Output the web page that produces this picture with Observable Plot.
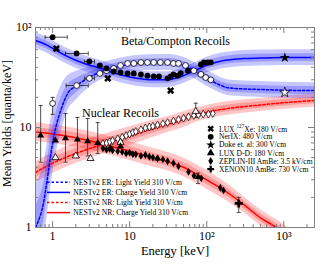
<!DOCTYPE html>
<html><head><meta charset="utf-8">
<script src="https://cdn.jsdelivr.net/npm/d3@7"></script>
<script src="https://cdn.jsdelivr.net/npm/@observablehq/plot@0.6"></script>
<style>body{margin:0;background:#fff}</style>
</head><body><div id="chart"></div>
<script>
// ---------- model curves (NESTv2, 310 V/cm) ----------
const erChargeE = [0.6,0.8,1,1.5,2,3,4,6,10,15,20,30,50,70,100,150,200,300,500,1000,2500];
const erChargeY = [74,68,62,52,47,42,39.5,35.5,32,30.5,30,30,33,37,42,46,47.5,49,49.5,50,50];
const erChargeBand = [1.2,1.2,1.2,1.2,1.2,1.2,1.2,1.2,1.2,1.2,1.2,1.2,1.2,1.2,1.2,1.2,1.2,1.2,1.2,1.2,1.2];

const erLightE = [0.6,0.65,0.7,0.76,0.85,0.95,1.03,1.1,1.3,1.57,2,2.85,4,5.65,8,11.3,20,31,45,62,80,113,150,186,300,500,1000,2500];
const erLightY = [1.0,1.15,1.35,1.74,3.0,5.5,7.9,10,15.5,21.9,26,31,35.5,38.9,41.5,43.6,44.5,44.7,43,39,34.5,29.5,26.5,25,24.3,24,23.6,23.4];
const erLightBand = [2.6,2.6,2.5,2.4,2.3,2.2,2.0,1.9,1.7,1.5,1.4,1.28,1.22,1.2,1.2,1.2,1.2,1.2,1.2,1.2,1.2,1.2,1.2,1.2,1.2,1.2,1.2,1.2];

const nrChargeE = [0.6,1,2,4,10,20,30,50,70,100,200,300,500,800,1200];
const nrChargeY = [9.0,8.6,7.9,7.0,5.8,5.0,4.6,4.0,3.5,3.0,2.15,1.7,1.25,1.0,0.8];
const nrChargeBand = [1.24,1.24,1.24,1.24,1.24,1.24,1.24,1.24,1.24,1.24,1.22,1.2,1.2,1.2,1.2];

const nrLightE = [0.6,1,2,4,10,20,30,50,70,100,200,500,1000,2500];
const nrLightY = [3.55,4.4,5.5,6.6,8.2,9.7,10.6,12,13.2,14.2,15.6,16.8,17.7,18.6];
const nrLightBand = [1.27,1.27,1.26,1.25,1.24,1.22,1.2,1.2,1.18,1.17,1.17,1.16,1.16,1.16];

// ---------- measurements ----------
const nerixChargeE = [1.0,2.05,3.0,4.1,5.0,6.2,7.6,9.4,11.3,14,17,20.5,24,31,34,37,42,46,57,84,92,103,113];
const nerixChargeY = [80,55,45.7,41.7,39,36.3,35.5,34.7,34.7,33.9,33,32.4,32.4,31,32.4,34,33,35,37,42.7,44.7,44.7,44.7];
const nerixLightE = [1.0,2.05,3.0,4.1,5.0,6.2,7.6,9.4,11.3,14,17,20.5,25,31,37,43,53,68,84,97,113];
const nerixLightY = [17.4,26.3,31,34.7,37,39,41.7,43.7,43.7,44.7,44.7,44.7,44.7,44.7,43.7,43.7,41.7,37,34,31.6,30];

const luxXeE = [1.12,5.2,34];
const luxXeY = [61.5,31,23.4];

const dokeChargeE = [1030]; const dokeChargeY = [50];
const dokeLightE = [1030];  const dokeLightY = [22.4];

const luxDDChargeE = [0.70,1.09,1.47,2.1,2.85,3.85,5.65,7.6,23,77];
const luxDDChargeY = [8.3,7.4,7.8,7.6,7.3,7.0,6.2,6.5,4.9,3.2];
const luxDDLightE = [1.09,2.0,3.1,7.6,72];
const luxDDLightY = [5.0,5.2,4.9,7.1,14.5];

const zepChargeE = [4.5,5,5.5,6,7,8,9,10,11,12,14,16,18,20,23,27,31,37,43,58,68,85,150,165];
const zepChargeY = [6.2,6.0,6.1,5.9,5.8,5.7,5.5,5.6,5.4,5.4,5.2,5.3,5.1,5.0,4.9,4.8,4.6,4.4,4.1,3.6,3.3,3.1,2.5,2.35];
const zepLightE = [4.5,5,5.5,6,7,8,9,10,11,12,14,16,18,20,23,27,31,37,43,50,58,68,78,90,105,120];
const zepLightY = [6.9,7.0,7.2,7.4,7.7,8.0,8.3,8.6,8.9,9.1,9.5,9.9,10.1,10.3,10.6,10.9,11.2,11.6,12.0,12.4,12.8,13.2,13.4,13.6,13.6,13.8];

const xe10E = [260]; const xe10Y = [1.74];

// error bars
const errVx  = [0.70,1.47,2.1,2.85,3.85,77,1.0,72,260];
const errVlo = [4.5,4.5,5.0,5.2,5.5,2.75,13.5,12.6,1.41];
const errVhi = [16.6,13.8,12.6,12.3,11.2,3.5,20,17.5,2.0];
const errHy  = [80,55,26.3,45.7,31];
const errHlo = [0.8,1.47,1.5,2.6,2.6];
const errHhi = [1.55,2.9,2.9,3.5,3.5];

// axes
const xMajor = [1,10,100,1000];
const xMajorLabels = ["1","10","10²","10³"];
const xMinor = [0.6,0.7,0.8,0.9,2,3,4,5,6,7,8,9,20,30,40,50,60,70,80,90,200,300,400,500,600,700,800,900,2000];
const yMajor = [1,10,100];
const yMajorLabels = ["1","10","10²"];
const yMinor = [2,3,4,5,6,7,8,9,20,30,40,50,60,70,80,90];

// legends
const legendLabels = ["LUX","NerIX: 480 V/cm","Doke et. al: 300 V/cm","LUX D-D: 180 V/cm","ZEPLIN-III AmBe: 3.5 kV/cm","XENON10 AmBe: 730 V/cm"];
const modelLabels = ["NESTv2 ER: Light Yield 310 V/cm","NESTv2 ER: Charge Yield 310 V/cm","NESTv2 NR: Light Yield 310 V/cm","NESTv2 NR: Charge Yield 310 V/cm"];

// ---------- helpers ----------
const rows = (E, Y) => E.map((e, i) => ({x: e, y: Y[i]}));
const bandRows = (E, Y, F, p) => E.map((e, i) => ({x: e, lo: Y[i] / Math.pow(F[i], p), hi: Y[i] * Math.pow(F[i], p)}));
const symX = {draw(ctx, size){ const r = Math.sqrt(size/5)/2; const pts=[[-3,-1],[-1,-1],[-1,-3],[1,-3],[1,-1],[3,-1],[3,1],[1,1],[1,3],[-1,3],[-1,1],[-3,1]]; const c=Math.SQRT1_2; pts.forEach(([a,b],i)=>{const X=(a-b)*c*r, Y=(a+b)*c*r; i?ctx.lineTo(X,Y):ctx.moveTo(X,Y);}); ctx.closePath();}};
const capH = {draw(ctx, size){ const w = Math.sqrt(size)/2; ctx.moveTo(-w,0); ctx.lineTo(w,0);}};
const capV = {draw(ctx, size){ const w = Math.sqrt(size)/2; ctx.moveTo(0,-w); ctx.lineTo(0,w);}};

const X0 = 0.6, X1 = 2500, Y0 = 1, Y1 = 100;
const pxPerDecX = (334-35-20) / Math.log10(X1/X0), pxPerDecY = 200/2;
const fx = px => Math.pow(10, px/pxPerDecX), fy = px => Math.pow(10, px/pxPerDecY);
const tickStroke = "#808080";

const blue = "#0000ff", red = "#ff0000";
const band = (E,Y,F,col) => [
  Plot.areaY(bandRows(E,Y,F,1), {x:"x", y1:"lo", y2:"hi", fill:col, fillOpacity:0.22, curve:"monotone-x", clip:true}),
  Plot.areaY(bandRows(E,Y,F,0.5), {x:"x", y1:"lo", y2:"hi", fill:col, fillOpacity:0.22, curve:"monotone-x", clip:true})
];

const chart = Plot.plot({
  width: 334, height: 267,
  marginLeft: 35, marginRight: 20, marginTop: 27, marginBottom: 40,
  x: {type:"log", domain:[X0, X1], label:null},
  y: {type:"log", domain:[Y0, Y1], label:null},
  style: {fontFamily:"'Liberation Serif', serif", fontSize:"12px", color:"black", background:"white"},
  marks: [
    ...band(nrChargeE, nrChargeY, nrChargeBand, red),
    ...band(nrLightE, nrLightY, nrLightBand, red),
    ...band(erChargeE, erChargeY, erChargeBand, blue),
    ...band(erLightE, erLightY, erLightBand, blue),
    Plot.line(rows(nrChargeE,nrChargeY), {x:"x", y:"y", stroke:red, strokeWidth:1.5, curve:"monotone-x", clip:true}),
    Plot.line(rows(nrLightE,nrLightY), {x:"x", y:"y", stroke:red, strokeWidth:1.5, strokeDasharray:"2.5,2", curve:"monotone-x", clip:true}),
    Plot.line(rows(erChargeE,erChargeY), {x:"x", y:"y", stroke:blue, strokeWidth:1.5, curve:"monotone-x", clip:true}),
    Plot.line(rows(erLightE,erLightY), {x:"x", y:"y", stroke:blue, strokeWidth:1.5, strokeDasharray:"2.5,2", curve:"monotone-x", clip:true}),
    // error bars
    Plot.ruleX(errVx.map((x,i)=>({x, lo:errVlo[i], hi:errVhi[i]})), {x:"x", y1:"lo", y2:"hi", stroke:"#222", strokeWidth:0.8}),
    Plot.dot(errVx.flatMap((x,i)=>[{x,y:errVlo[i]},{x,y:errVhi[i]}]), {x:"x", y:"y", symbol:capH, r:2.3, stroke:"#222", fill:"none", strokeWidth:0.8}),
    Plot.ruleY(errHy.map((y,i)=>({y, lo:errHlo[i], hi:errHhi[i]})), {y:"y", x1:"lo", x2:"hi", stroke:"#222", strokeWidth:0.8}),
    Plot.dot(errHy.flatMap((y,i)=>[{x:errHlo[i],y},{x:errHhi[i],y}]), {x:"x", y:"y", symbol:capV, r:2.3, stroke:"#222", fill:"none", strokeWidth:0.8}),
    // data markers
    Plot.dot(rows(zepLightE,zepLightY), {x:"x", y:"y", symbol:"diamond", r:2.4, fill:"white", stroke:"black", strokeWidth:0.7}),
    Plot.dot(rows(zepChargeE,zepChargeY), {x:"x", y:"y", symbol:"diamond", r:2.4, fill:"black", stroke:"none"}),
    Plot.dot(rows(nerixLightE,nerixLightY), {x:"x", y:"y", symbol:"circle", r:2.9, fill:"white", stroke:"black", strokeWidth:0.8}),
    Plot.dot(rows(nerixChargeE,nerixChargeY), {x:"x", y:"y", symbol:"circle", r:2.9, fill:"black", stroke:"none"}),
    Plot.dot(rows(luxDDLightE,luxDDLightY), {x:"x", y:"y", symbol:"triangle", r:2.6, fill:"white", stroke:"black", strokeWidth:0.8}),
    Plot.dot(rows(luxDDChargeE,luxDDChargeY), {x:"x", y:"y", symbol:"triangle", r:2.6, fill:"black", stroke:"none"}),
    Plot.dot(rows(luxXeE,luxXeY), {x:"x", y:"y", symbol:symX, r:3.2, fill:"black", stroke:"none"}),
    Plot.dot(rows(dokeLightE,dokeLightY), {x:"x", y:"y", symbol:"star", r:3.2, fill:"white", stroke:"black", strokeWidth:0.8}),
    Plot.dot(rows(dokeChargeE,dokeChargeY), {x:"x", y:"y", symbol:"star", r:3.2, fill:"black", stroke:"none"}),
    Plot.dot(rows(xe10E,xe10Y), {x:"x", y:"y", symbol:"cross", r:3.4, fill:"black", stroke:"none"}),
    // frame and ticks
    Plot.frame({stroke:"#808080"}),
    Plot.ruleX(xMajor, {x:d=>d, y1:Y0, y2:Y0*fy(6), stroke:tickStroke}),
    Plot.ruleX(xMinor, {x:d=>d, y1:Y0, y2:Y0*fy(3), stroke:tickStroke}),
    Plot.ruleX(xMajor, {x:d=>d, y1:Y1, y2:Y1/fy(6), stroke:tickStroke}),
    Plot.ruleX(xMinor, {x:d=>d, y1:Y1, y2:Y1/fy(3), stroke:tickStroke}),
    Plot.ruleY(yMajor, {y:d=>d, x1:X0, x2:X0*fx(6), stroke:tickStroke}),
    Plot.ruleY(yMinor, {y:d=>d, x1:X0, x2:X0*fx(3), stroke:tickStroke}),
    Plot.ruleY(yMajor, {y:d=>d, x1:X1, x2:X1/fx(6), stroke:tickStroke}),
    Plot.ruleY(yMinor, {y:d=>d, x1:X1, x2:X1/fx(3), stroke:tickStroke}),
    Plot.axisX({ticks:xMajor, tickSize:0, tickPadding:4, tickFormat:d=>xMajorLabels[xMajor.indexOf(d)], fontSize:12, label:null}),
    Plot.axisY({ticks:yMajor, tickSize:0, tickPadding:4, tickFormat:d=>yMajorLabels[yMajor.indexOf(d)], fontSize:12, label:null}),
    // titles & annotations
    Plot.text(["Energy [keV]"], {text:d=>d, frameAnchor:"bottom", dy:23, fontSize:12.5, textAnchor:"middle", lineAnchor:"middle"}),
    Plot.text(["Mean Yields [quanta/keV]"], {text:d=>d, frameAnchor:"left", dx:-28, dy:-4, rotate:-90, fontSize:12, textAnchor:"middle", lineAnchor:"middle"}),
    Plot.text(["Beta/Compton Recoils"], {text:d=>d, frameAnchor:"top-left", dx:140, dy:14, fontSize:12, textAnchor:"middle", lineAnchor:"middle"}),
    Plot.text(["Nuclear Recoils"], {text:d=>d, frameAnchor:"top-left", dx:85, dy:86, fontSize:12, textAnchor:"middle", lineAnchor:"middle"})
  ]
});

// ---------- in-plot legends ----------
const svg = d3.select(chart);
const g = svg.append("g").attr("font-family","'Liberation Serif', serif").attr("font-size", 7.6).attr("text-anchor","start");
const legSyms = [symX, d3.symbolCircle, d3.symbolStar, d3.symbolTriangle, d3.symbolDiamond, d3.symbolCross];
legendLabels.forEach((lab, i) => {
  const y = 128.7 + i*8.1;
  g.append("path").attr("d", d3.symbol(legSyms[i], i===4 ? 20 : 26)()).attr("transform", `translate(210.7,${y})`).attr("fill","black");
  const t = g.append("text").attr("x", 219).attr("y", y).attr("dominant-baseline","central");
  if (i === 0) {
    t.append("tspan").text("LUX ");
    t.append("tspan").attr("font-size",5.2).attr("dy",-2.6).text("127");
    t.append("tspan").attr("dy",2.6).text("Xe: 180 V/cm");
  } else t.text(lab);
});
const modelStyles = [[blue,"2.5,2"],[blue,null],[red,"2.5,2"],[red,null]];
modelLabels.forEach((lab, i) => {
  const y = 182.3 + i*10.1;
  const l = g.append("line").attr("x1",47).attr("x2",70).attr("y1",y).attr("y2",y).attr("stroke",modelStyles[i][0]).attr("stroke-width",1.5);
  if (modelStyles[i][1]) l.attr("stroke-dasharray", modelStyles[i][1]);
  g.append("text").attr("x",73.3).attr("y",y).attr("dominant-baseline","central").text(lab);
});
document.getElementById("chart").appendChild(chart);
</script>
</body></html>
